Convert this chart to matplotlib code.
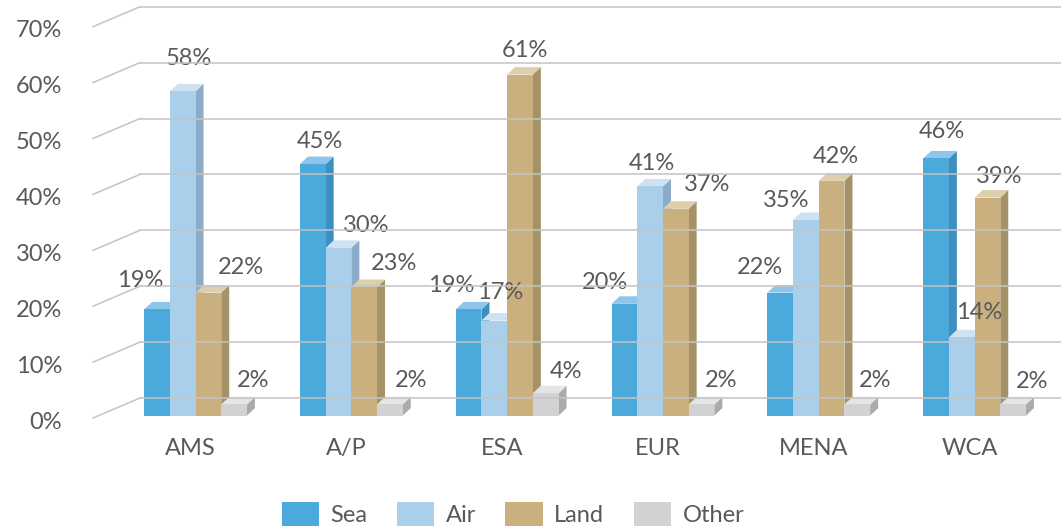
import matplotlib.pyplot as plt
from matplotlib.patches import Patch
from matplotlib.transforms import ScaledTranslation

regions = ['AMS', 'A/P', 'ESA', 'EUR', 'MENA', 'WCA']
modes = ['Sea', 'Air', 'Land', 'Other']
sea = [19, 45, 19, 20, 22, 46]
air = [58, 30, 17, 41, 35, 14]
land = [22, 23, 61, 37, 42, 39]
other = [2, 2, 4, 2, 2, 2]
yticks = [0, 10, 20, 30, 40, 50, 60, 70]

# front, top and side shades for each mode
front = ['#4BA9DC', '#A9CFEB', '#C9B07E', '#D1D2D4']
top = ['#8DC6EA', '#CFE2F2', '#DDCEAC', '#E4E5E7']
side = ['#3C8FBF', '#8BABC8', '#A69268', '#AAABAD']

# where each value label sits relative to its bar top (pixels)
label_nudge = [
    [(-17, 31), (6, 35), (33, 27), (19, 26)],
    [(7, 25), (28, 24), (30, 26), (21, 26)],
    [(-17, 26), (6, 30), (5, 26), (20, 24)],
    [(-19, 23), (2, 25), (31, 26), (20, 26)],
    [(-20, 27), (-20, 21), (4, 26), (18, 26)],
    [(6, 29), (17, 27), (12, 23), (19, 25)],
]

plt.rcParams['font.family'] = ['Lato', 'DejaVu Sans']
txt = '#595959'
grid = '#C4C4C4'
fs = 17

W, H, dpi = 1061, 526, 100
fig = plt.figure(figsize=(W / dpi, H / dpi), dpi=dpi)
ax = fig.add_axes([93 / W, (H - 415.6) / H, 921 / W, 391.3 / H])
xmin, xmax = -0.658, 5.253
ax.set_xlim(xmin, xmax)
ax.set_ylim(0, 70)
ax.axis('off')

px_x = 921 / (xmax - xmin)
px_y = 391.3 / 70
bw = 25.7 / px_x
ddx, ddy = 8 / px_x, 7.5 / px_y

# walls: left diagonals and back gridlines
t_front = ax.transData + ScaledTranslation(0, -2.4 / dpi, fig.dpi_scale_trans)
t_back = ax.transData + ScaledTranslation(47 / dpi, 17.6 / dpi, fig.dpi_scale_trans)
for v in yticks:
    fx, fy = t_front.transform((xmin, v))
    bx, by = t_back.transform((xmin, v))
    ex, _ = t_back.transform((xmax + 1, v))
    fig.add_artist(plt.Line2D([fx / W, bx / W], [fy / H, by / H], color=grid, lw=1.1))
    fig.add_artist(plt.Line2D([bx / W, ex / W], [by / H, by / H], color=grid, lw=1.1))
    ax.annotate(f'{v}%', (xmin, v), xytext=(-31, -13), textcoords='offset pixels',
                ha='right', va='baseline', fontsize=fs, color=txt, annotation_clip=False)

series = [sea, air, land, other]
z = 2
for i, reg in enumerate(regions):
    for k, vals in enumerate(series):
        v = vals[i]
        x0 = i + (k - 2) * bw
        x1 = x0 + bw
        ax.fill([x1, x1 + ddx, x1 + ddx, x1], [0, ddy, v + ddy, v],
                color=side[k], lw=0, zorder=z, clip_on=False)
        ax.fill([x0, x1, x1 + ddx, x0 + ddx], [v, v, v + ddy, v + ddy],
                color=top[k], lw=0, zorder=z + 0.1, clip_on=False)
        ax.bar(x0, v, width=bw, align='edge', color=front[k], lw=0,
               zorder=z + 0.2, clip_on=False)
        z += 1
        dx, dy = label_nudge[i][k]
        ax.annotate(f'{v}%', (x0 + bw / 2, v), xytext=(dx, dy - 8.5),
                    textcoords='offset pixels', ha='center', va='baseline',
                    fontsize=fs, color=txt, zorder=100, annotation_clip=False)
    ax.annotate(reg, (i, 0), xytext=(-5, -39.5), textcoords='offset pixels',
                ha='center', va='baseline', fontsize=fs, color=txt,
                annotation_clip=False)

handles = [Patch(color=c, lw=0) for c in front]
fig.legend(handles, modes, loc='center', bbox_to_anchor=(513 / W, 12 / H),
           ncol=4, frameon=False, fontsize=fs, labelcolor=txt,
           handlelength=1.57, handleheight=1.2, handletextpad=0.5,
           columnspacing=1.24, borderpad=0)

fig.savefig('out.png', dpi=dpi)
